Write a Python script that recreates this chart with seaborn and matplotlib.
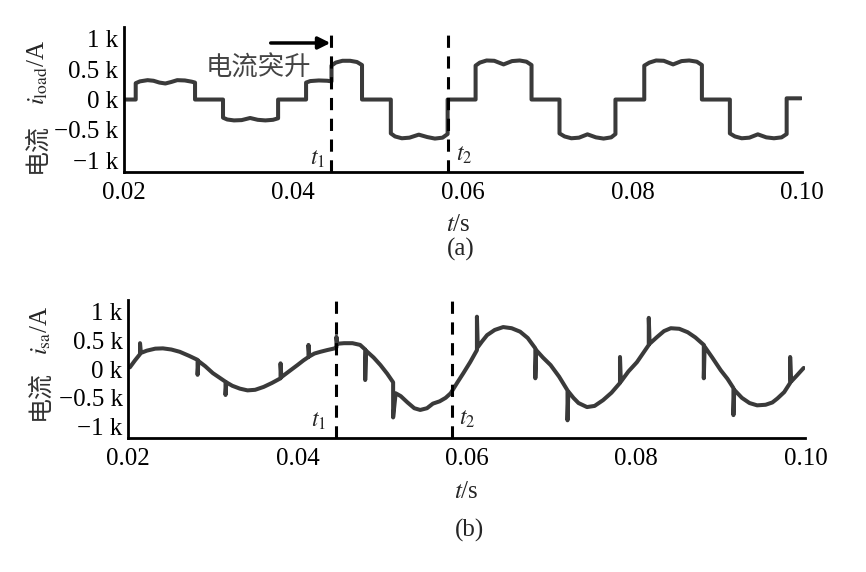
import matplotlib
matplotlib.use('Agg')
import matplotlib.pyplot as plt
import seaborn as sns

# (a) load current i_load, A
t_a = [0.0200, 0.0214, 0.0214, 0.0219, 0.0228, 0.0235, 0.0242, 0.0249, 0.0256, 0.0263, 0.0272, 0.0280, 0.0284, 0.0284,
       0.0317, 0.0317, 0.0322, 0.0330, 0.0339, 0.0349, 0.0358, 0.0367, 0.0376, 0.0382, 0.0382,
       0.0415, 0.0415, 0.0420, 0.0430, 0.0440, 0.0445, 0.0445, 0.0450, 0.0458, 0.0467, 0.0475, 0.0481, 0.0481,
       0.0515, 0.0515, 0.0520, 0.0528, 0.0537, 0.0548, 0.0558, 0.0567, 0.0576, 0.0582, 0.0582,
       0.0615, 0.0615, 0.0620, 0.0628, 0.0637, 0.0648, 0.0658, 0.0667, 0.0675, 0.0681, 0.0681,
       0.0714, 0.0714, 0.0720, 0.0728, 0.0737, 0.0747, 0.0757, 0.0766, 0.0775, 0.0780, 0.0780,
       0.0814, 0.0814, 0.0820, 0.0828, 0.0837, 0.0848, 0.0858, 0.0867, 0.0876, 0.0882, 0.0882,
       0.0915, 0.0915, 0.0921, 0.0929, 0.0938, 0.0948, 0.0958, 0.0967, 0.0976, 0.0982, 0.0982, 0.0999]
i_a = [0, 0, 270, 300, 320, 310, 280, 265, 290, 320, 315, 295, 280, 0,
       0, -300, -330, -345, -340, -305, -335, -345, -335, -310, 0,
       0, 280, 305, 315, 310, 300, 560, 610, 640, 640, 620, 570, 0,
       0, -560, -610, -640, -630, -580, -620, -645, -630, -570, 0,
       0, 560, 610, 645, 640, 580, 635, 645, 625, 570, 0,
       0, -560, -610, -640, -630, -575, -625, -645, -625, -570, 0,
       0, 560, 610, 645, 640, 580, 635, 645, 625, 570, 0,
       0, -560, -610, -640, -630, -575, -625, -640, -625, -570, 20, 20]

# (b) current i_sa, A
t_b = [0.0202, 0.0208, 0.0214, 0.0214, 0.0215, 0.0222, 0.0232, 0.0241, 0.0251, 0.0261, 0.0272, 0.0282, 0.0282, 0.0283,
       0.0291, 0.0300, 0.0308, 0.0315, 0.0315, 0.0316, 0.0323, 0.0332, 0.0341, 0.0350, 0.0360, 0.0370, 0.0380, 0.0380,
       0.0381, 0.0390, 0.0400, 0.0407, 0.0413, 0.0413, 0.0414, 0.0420, 0.0427, 0.0435, 0.0444, 0.0446, 0.0446, 0.0447,
       0.0455, 0.0465, 0.0474, 0.0480, 0.0480, 0.0481, 0.0490, 0.0498, 0.0506, 0.0513, 0.0513, 0.0516, 0.0522, 0.0530,
       0.0538, 0.0545, 0.0553, 0.0560, 0.0568, 0.0575, 0.0581, 0.0589, 0.0596, 0.0604, 0.0612, 0.0612, 0.0613, 0.0618,
       0.0624, 0.0633, 0.0643, 0.0653, 0.0663, 0.0672, 0.0681, 0.0681, 0.0682, 0.0690, 0.0699, 0.0709, 0.0719, 0.0719,
       0.0720, 0.0726, 0.0732, 0.0742, 0.0751, 0.0761, 0.0771, 0.0781, 0.0781, 0.0782, 0.0791, 0.0801, 0.0808, 0.0815,
       0.0815, 0.0816, 0.0825, 0.0833, 0.0841, 0.0851, 0.0861, 0.0870, 0.0880, 0.0880, 0.0881, 0.0890, 0.0900, 0.0908,
       0.0915, 0.0915, 0.0916, 0.0925, 0.0934, 0.0943, 0.0953, 0.0961, 0.0967, 0.0975, 0.0982, 0.0982, 0.0983, 0.0990,
       0.0998]
i_b = [30, 150, 260, 450, 280, 320, 355, 360, 340, 300, 230, 160, -100, 140,
       50, -70, -150, -220, -450, -230, -290, -340, -370, -360, -310, -240, -160, 100,
       -140, -40, 70, 150, 210, 420, 220, 270, 300, 330, 360, 380, 560, 440,
       450, 450, 420, 340, -190, 320, 200, 70, -80, -230, -840, -420, -470, -580,
       -680, -710, -680, -600, -560, -500, -420, -230, -70, 120, 330, 910, 380, 480,
       590, 680, 730, 710, 650, 540, 360, -160, 330, 200, 70, -130, -370, -890,
       -390, -500, -590, -660, -640, -540, -410, -240, 210, -220, -40, 120, 270, 420,
       890, 440, 560, 660, 710, 700, 640, 550, 420, -160, 390, 200, -20, -170,
       -330, -800, -360, -500, -590, -630, -620, -580, -510, -400, -240, 210, -220, -110,
       20]

t_marks = [0.0445, 0.0582]
x_ticks = [0.02, 0.04, 0.06, 0.08, 0.10]
x_labels = ['0.02', '0.04', '0.06', '0.08', '0.10']
y_ticks = [-1000, -500, 0, 500, 1000]
y_labels = ['\u22121 k', '\u22120.5 k', '0 k', '0.5 k', '1 k']

sns.set_style('white')
plt.rcParams['font.family'] = ['Liberation Serif', 'Noto Sans CJK SC']
plt.rcParams['mathtext.fontset'] = 'stix'

fig = plt.figure(figsize=(8.66, 5.72), dpi=100)
ax1 = fig.add_axes([0.143, 0.699, 0.783, 0.254])
ax2 = fig.add_axes([0.148, 0.234, 0.782, 0.2415])

sns.lineplot(x=t_a, y=i_a, ax=ax1, sort=False, estimator=None, color='#3a3a3a', lw=2.9)
sns.lineplot(x=t_b, y=i_b, ax=ax2, sort=False, estimator=None, color='#3a3a3a', lw=2.9)

for ax in (ax1, ax2):
    ax.set_xlim(0.02, 0.10)
    ax.set_ylim(-1200, 1200)
    ax.set_xticks(x_ticks)
    ax.set_xticklabels(x_labels)
    ax.set_yticks(y_ticks)
    ax.set_yticklabels(y_labels)
    ax.set_yticks([1200], minor=True)
    ax.tick_params(direction='in', length=7, width=1.5, labelsize=18, colors='black')
    ax.tick_params(axis='x', pad=7)
    ax.tick_params(axis='y', pad=4)
    ax.tick_params(which='minor', direction='in', length=7, width=1.5)
    sns.despine(ax=ax)
    for s in ('left', 'bottom'):
        ax.spines[s].set_linewidth(2)
        ax.spines[s].set_color('black')
    for tm in t_marks:
        ax.axvline(tm, color='black', lw=2.2, linestyle=(0, (4, 2.8)))

# t1 / t2 markers
ax1.text(0.0428, -980, '$t_1$', fontsize=17, ha='center', va='center')
ax1.text(0.0601, -920, '$t_2$', fontsize=17, ha='center', va='center')
ax2.text(0.0425, -910, '$t_1$', fontsize=17, ha='center', va='center')
ax2.text(0.0601, -870, '$t_2$', fontsize=17, ha='center', va='center')

# current step annotation
ax1.annotate('', xy=(0.0447, 934), xytext=(0.0370, 934),
             arrowprops=dict(arrowstyle='-|>', color='black', lw=2.5, mutation_scale=18))
ax1.text(0.0359, 525, '电流突升', fontsize=19, ha='center', va='center', color='#444444',
         family=['Noto Sans CJK SC'])

# y labels: CJK part and math part drawn separately
cjk = ['Noto Sans CJK SC']
fig.text(37 / 866, 1 - 148 / 572, '电流', rotation=90, fontsize=18, ha='center', va='center',
         family=cjk, color='#333333')
fig.text(38 / 866, 1 - 72 / 572, '$i_{\\mathrm{load}}$/A', rotation=90, fontsize=18,
         ha='center', va='center')
fig.text(40 / 866, 1 - 395 / 572, '电流', rotation=90, fontsize=18, ha='center', va='center',
         family=cjk, color='#333333')
fig.text(41 / 866, 1 - 330 / 572, '$i_{\\mathrm{sa}}$/A', rotation=90, fontsize=18,
         ha='center', va='center')

fig.text(458 / 866, 1 - 225 / 572, '$t$/s', fontsize=18, ha='center', va='center')
fig.text(461 / 866, 1 - 249 / 572, '(a)', fontsize=18, ha='center', va='center')
fig.text(466 / 866, 1 - 492 / 572, '$t$/s', fontsize=18, ha='center', va='center')
fig.text(470 / 866, 1 - 530 / 572, '(b)', fontsize=18, ha='center', va='center')

fig.savefig('out.png', dpi=100)
